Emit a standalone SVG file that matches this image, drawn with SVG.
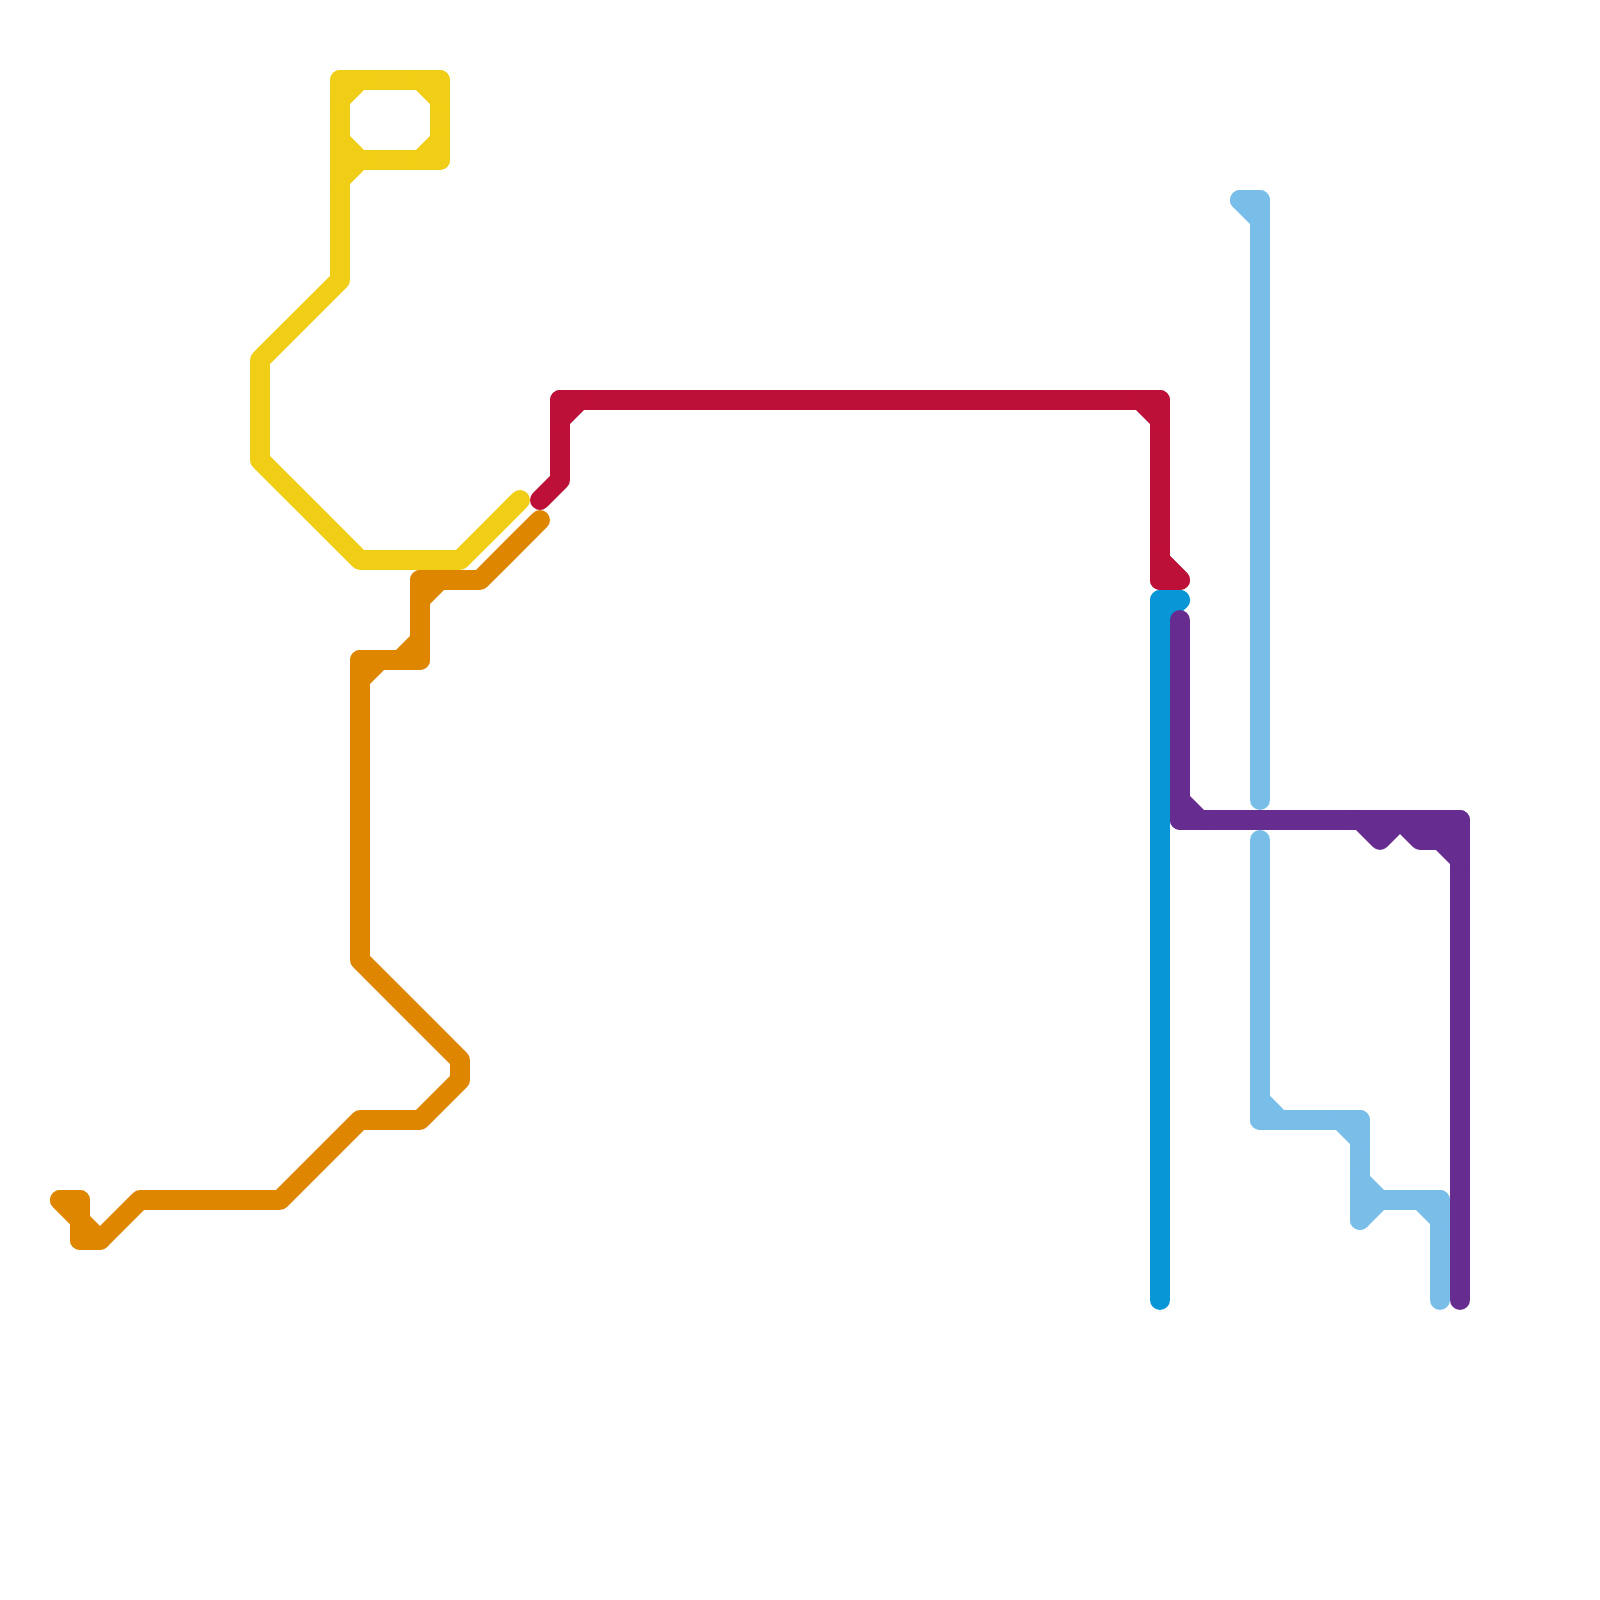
<svg xmlns="http://www.w3.org/2000/svg" width="1600" height="1600" viewBox="0 0 1600 1600">
<style>
.line{fill:none;stroke-width:20;stroke-linecap:round;stroke-linejoin:round}
.fill{stroke-width:20;stroke-linecap:round;stroke-linejoin:round}
.yellow{stroke:#f0ce15}.yellow.fill{fill:#f0ce15}
.orange{stroke:#df8600}.orange.fill{fill:#df8600}
.red{stroke:#bd1038}.red.fill{fill:#bd1038}
.blue{stroke:#0896d7}.blue.fill{fill:#0896d7}
.sky{stroke:#79bde9}.sky.fill{fill:#79bde9}
.purple{stroke:#662c90}.purple.fill{fill:#662c90}
</style>
<rect width="1600" height="1600" fill="#ffffff"/>
<g id="connectors">
<g id="line-yellow">
<path class="line yellow" d="M520 500L460 560H360L260 460V360L340 280V80H440V160H340"/>
<path class="fill yellow" d="M340 80H360L340 100ZM420 80H440V100ZM440 140V160H420ZM340 140L360 160L340 180Z"/>
</g>
<g id="line-orange">
<path class="line orange" d="M540 520L480 580H420V660H360V960L460 1060V1080L420 1120H360L280 1200H140L100 1240H80V1200H60L80 1220"/>
<path class="fill orange" d="M420 580H440L420 600ZM400 660L420 640V660ZM360 660H380L360 680ZM60 1200H80V1220ZM80 1220L100 1240H80Z"/>
</g>
<g id="line-red">
<path class="line red" d="M540 500L560 480V400H1160V580H1180L1160 560"/>
<path class="fill red" d="M560 400H580L560 420ZM1140 400H1160V420ZM1160 560L1180 580H1160Z"/>
</g>
<g id="line-blue">
<path class="line blue" d="M1180 600H1160V1300"/>
<path class="fill blue" d="M1160 600H1180L1160 620Z"/>
</g>
<g id="line-sky">
<path class="line sky" d="M1240 200H1260V800"/>
<path class="line sky" d="M1260 840V1120H1360V1220"/>
<path class="line sky" d="M1360 1200H1440V1300"/>
<path class="fill sky" d="M1240 200H1260V220ZM1260 1100L1280 1120H1260ZM1340 1120H1360V1140ZM1360 1180L1380 1200L1360 1220ZM1420 1200H1440V1220Z"/>
</g>
<g id="line-purple">
<path class="line purple" d="M1180 620V820H1460V1300"/>
<path class="fill purple" d="M1180 800L1200 820H1180ZM1360 820L1380 840L1400 820ZM1400 820L1420 840H1440L1460 860V820Z"/>
</g>
</g>
</svg>
